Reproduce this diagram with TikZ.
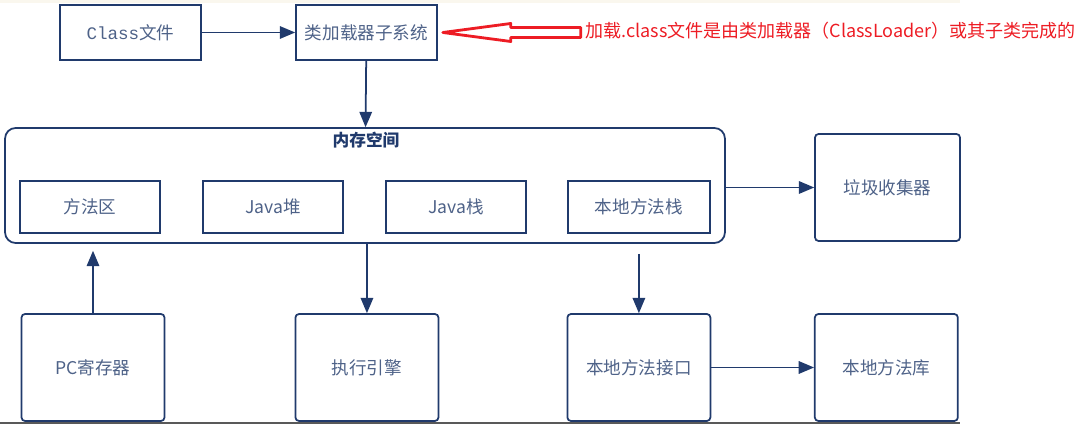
\documentclass[tikz,border=0pt]{standalone}
\usepackage{fontspec}
\setmainfont{Noto Sans CJK SC}
\newfontfamily\monofont{Liberation Mono}
\usetikzlibrary{arrows}
\definecolor{navy}{RGB}{32,58,108}
\definecolor{boxtext}{RGB}{78,98,136}
\definecolor{notered}{RGB}{237,28,36}
\definecolor{paper}{RGB}{250,247,238}

\begin{document}
\begin{tikzpicture}[node distance = 3.66cm, auto, x=0.02cm, y=-0.02cm]
    \tikzstyle{block} = [rectangle, draw=navy, line width=1pt, text=boxtext, font=\fontsize{10}{12}\selectfont, minimum width=2.8cm, minimum height=1.04cm, inner sep=0pt]
    \tikzstyle{tall}  = [block, minimum width=2.86cm, minimum height=2.14cm, rounded corners=2pt]
    \tikzstyle{line}  = [draw=navy, line width=1pt, -triangle 45]

    \useasboundingbox (0,0) rectangle (1081,431);
    \fill [paper] (0,0) rectangle (960,3);
    \draw [line width=1.6pt, black!65] (0,423) -- (960,423);

    % Place nodes
    % loading:
    \node [block, minimum width=2.82cm, minimum height=1.1cm] (classfile) at (130.5,32.5) {{\monofont\fontsize{10}{12}\selectfont Class}文件};
    \node [block, right of=classfile, minimum width=2.82cm, minimum height=1.1cm, node distance=4.72cm] (loader) {类加载器子系统};

    % memory:
    \node [draw=navy, line width=1pt, rounded corners=6pt, minimum width=14.4cm, minimum height=2.3cm] (mem) at (365,185.5) {};
    \node [text=navy, font=\bfseries\fontsize{9.5}{11}\selectfont] (memtitle) at (366,140) {内存空间};
    \node [block] (method) at (90,207) {方法区};
    \node [block, right of=method] (heap) {Java堆};
    \node [block, right of=heap] (stack) {Java栈};
    \node [block, right of=stack, minimum width=2.84cm] (nstack) {本地方法栈};
    \node [tall, minimum width=2.9cm] (gc) at (887.5,187.5) {垃圾收集器};

    % others:
    \node [tall] (pc) at (93,367.5) {PC寄存器};
    \node [tall, right of=pc, node distance=5.48cm] (engine) {执行引擎};
    \node [tall, right of=engine, node distance=5.44cm] (jni) {本地方法接口};
    \node [tall, right of=jni, node distance=4.95cm] (nlib) {本地方法库};

    % note
    \node [anchor=west, inner sep=0pt, text=notered, font=\fontsize{10.25}{12}\selectfont] (note) at (585,31) {加载.class文件是由类加载器（ClassLoader）或其子类完成的};
    \draw [notered, line width=1.6pt, line join=round]
        ([xshift=0.1cm]loader.east) -- ++(68,-9) -- ++(0,4) -- ++(70,0) -- ++(0,10) -- ++(-70,0) -- ++(0,4) -- cycle;

    \path [line] (classfile) -- (loader);
    \path [line] (loader) -- (mem);
    \path [line] (mem.east |- gc.west) -- (gc.west);
    \path [line, shorten >=0.14cm] (pc.north) -- (pc.north |- mem.south);
    \path [line] (mem.south -| engine.north) -- (engine.north);
    \path [line, shorten <=0.2cm] (mem.south -| jni.north) -- (jni.north);
    \path [line] (jni) -- (nlib);
\end{tikzpicture}
\end{document}
